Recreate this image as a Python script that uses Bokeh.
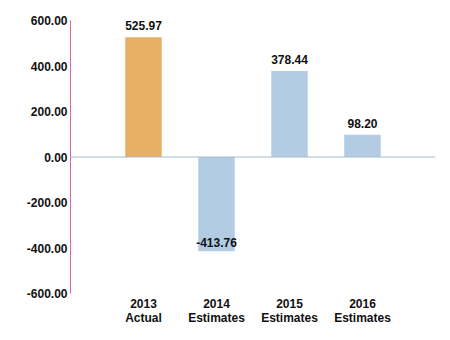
from bokeh.plotting import figure
from bokeh.models import ColumnDataSource, FixedTicker, Span, Range1d, PrintfTickFormatter
from bokeh.core.properties import value
from bokeh.embed import file_html
from bokeh.resources import INLINE

categories = ["2013\nActual", "2014\nEstimates", "2015\nEstimates", "2016\nEstimates"]
values = [525.97, -413.76, 378.44, 98.20]
colors = ["#E8B065", "#B1CCE3", "#B1CCE3", "#B1CCE3"]
y_ticks = [-600, -400, -200, 0, 200, 400, 600]

xs = list(range(1, len(categories) + 1))
labels = ["%.2f" % v for v in values]
offsets = [-7 if v >= 0 else -4 for v in values]

src = ColumnDataSource(dict(x=xs, top=values, color=colors, label=labels, off=offsets))

p = figure(width=450, height=340, output_backend="svg", toolbar_location=None,
           x_range=Range1d(0, len(categories) + 1), y_range=Range1d(-600, 600),
           min_border_left=70, min_border_right=15, min_border_top=20, min_border_bottom=47)
p.outline_line_color = None
p.grid.visible = False
p.background_fill_color = "white"

p.vbar(x="x", top="top", bottom=0, width=0.5, color="color", line_color=None, source=src)

p.add_layout(Span(location=0, dimension="width", line_color="#A3BCCF", line_width=1))

p.text(x="x", y="top", text="label", source=src, text_align="center", text_baseline="bottom",
       y_offset="off", text_font=value("Liberation Sans"), text_font_style="bold",
       text_font_size="12px", text_color="#111111")

ya = p.yaxis[0]
ya.ticker = FixedTicker(ticks=y_ticks)
ya.formatter = PrintfTickFormatter(format="%.2f")
ya.axis_line_color = "#D86A96"
ya.axis_line_width = 1
ya.major_tick_out = 0
ya.major_tick_in = 0
ya.minor_tick_out = 0
ya.minor_tick_in = 0
ya.major_label_standoff = 3
ya.major_label_text_font = "Liberation Sans"
ya.major_label_text_font_style = "bold"
ya.major_label_text_font_size = "12px"
ya.major_label_text_color = "#111111"

xa = p.xaxis[0]
xa.ticker = FixedTicker(ticks=xs)
xa.major_label_overrides = {x: c for x, c in zip(xs, categories)}
xa.axis_line_color = None
xa.major_tick_out = 0
xa.major_tick_in = 0
xa.minor_tick_out = 0
xa.minor_tick_in = 0
xa.major_label_standoff = 3
xa.major_label_text_font = "Liberation Sans"
xa.major_label_text_font_style = "bold"
xa.major_label_text_font_size = "12px"
xa.major_label_text_color = "#111111"
xa.major_label_text_line_height = 1.0

open("out.html", "w").write(file_html(p, INLINE))
